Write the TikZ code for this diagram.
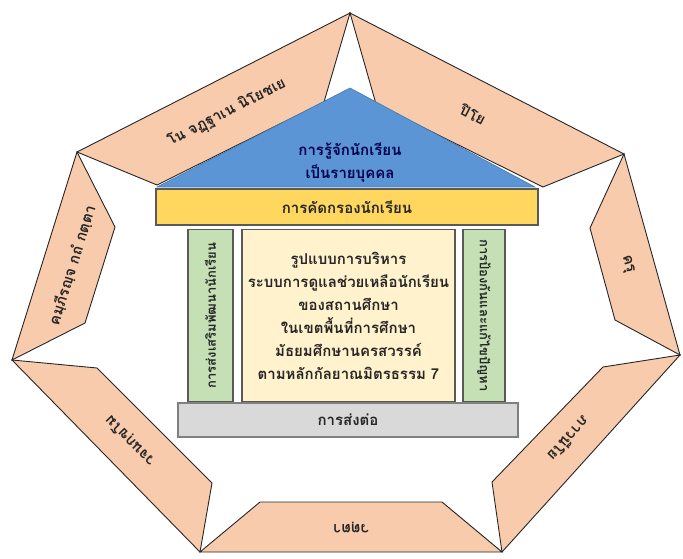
\documentclass[tikz,border=0pt]{standalone}
\usepackage{fontspec}
\newfontfamily\thaifont[Script=Thai]{Loma}
\usetikzlibrary{calc}

\definecolor{peach}{HTML}{F8CBAD}
\definecolor{roofblue}{HTML}{5B95D5}
\definecolor{beamyellow}{HTML}{FFD75E}
\definecolor{pillargreen}{HTML}{C5E0B4}
\definecolor{corecream}{HTML}{FFF2CC}
\definecolor{plinthgray}{HTML}{D9D9D9}
\definecolor{inkgray}{HTML}{262626}
\definecolor{rimgray}{HTML}{595959}

\begin{document}
\begin{tikzpicture}
  [x=1pt,y=-1pt,
   every node/.style={font=\thaifont\bfseries\fontsize{15}{23}\selectfont,text=inkgray,inner sep=0pt},
   panel/.style={fill=peach,draw=black!85,line width=0.9pt},
   block/.style={draw=rimgray,line width=1.2pt},
   pillar/.style={block,fill=pillargreen,minimum width=172pt,font=\thaifont\bfseries\fontsize{13}{16}\selectfont}]
  \useasboundingbox (0,0) rectangle (683,559);

  % corners of the ring
  \coordinate (t)  at (350,13);
  \coordinate (ur) at (624,154);
  \coordinate (r)  at (680,355);
  \coordinate (br) at (502,552);
  \coordinate (bl) at (200,552);
  \coordinate (l)  at (12,360);
  \coordinate (ul) at (77,152);

  % inner ends of each panel
  \coordinate (p1-a) at (376,104);  \coordinate (p1-b) at (543,187);
  \coordinate (p2-a) at (590,228);  \coordinate (p2-b) at (615,320);
  \coordinate (p3-a) at (603,367);  \coordinate (p3-b) at (492,482);
  \coordinate (p4-a) at (442,502);  \coordinate (p4-b) at (260,502);
  \coordinate (p5-a) at (212,483);  \coordinate (p5-b) at (97,368);
  \coordinate (p6-a) at (85,323);   \coordinate (p6-b) at (115,227);
  \coordinate (p7-a) at (157,185);  \coordinate (p7-b) at (324,102);

  \foreach \n/\s/\e/\ang/\txt in {p1/t/ur/-27.2/ปิโย,
                                  p2/ur/r/-74.4/ครุ,
                                  p3/r/br/-132.1/ภาวนีโย,
                                  p4/br/bl/180/วตฺตา,
                                  p5/bl/l/134.4/วจนกฺขโม,
                                  p6/l/ul/72.6/คมฺภีรญฺจ กถํ กตฺตา,
                                  p7/ul/t/27/โน จฏฺฐาเน นิโยชเย}
  {
    \draw[panel] (\s) -- (\e) -- (\n-b) -- (\n-a) -- cycle;
    \node[rotate=\ang] (\n-txt) at ($($(\s)!.5!(\e)$)!.5!($(\n-a)!.5!(\n-b)$)$) {\txt};
  }

  % the house
  \draw[fill=roofblue,draw=roofblue!80!black,line width=0.6pt] (350,88) -- (535,187) -- (157,187) -- cycle;
  \node[align=center,text=blue!30!black] (roof) at (350,163) {การรู้จักนักเรียน\\เป็นรายบุคคล};
  \node[block,fill=beamyellow,minimum width=382pt,minimum height=36pt] (beam) at (347,207) {การคัดกรองนักเรียน};
  \node[pillar,rotate=90,minimum height=45pt] (lpillar) at (210.5,315.5) {การส่งเสริมพัฒนานักเรียน};
  \node[block,fill=corecream,align=center,minimum width=213pt,minimum height=172pt] (core) at (348.5,315.5)
    {รูปแบบการบริหาร\\ระบบการดูแลช่วยเหลือนักเรียน\\ของสถานศึกษา\\ในเขตพื้นที่การศึกษา\\มัธยมศึกษานครสวรรค์\\ตามหลักกัลยาณมิตรธรรม 7};
  \node[pillar,rotate=-90,minimum height=42pt] (rpillar) at (484,315.5) {การป้องกันและแก้ไขปัญหา};
  \node[block,fill=plinthgray,draw=gray,minimum width=340pt,minimum height=34pt] (plinth) at (348,420) {การส่งต่อ};
\end{tikzpicture}
\end{document}
